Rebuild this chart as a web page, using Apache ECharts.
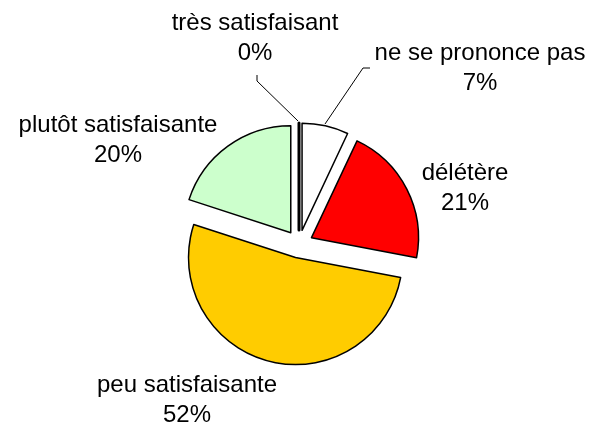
<!DOCTYPE html>
<html>
<head>
<meta charset="utf-8">
<script src="https://cdn.jsdelivr.net/npm/echarts@6/dist/echarts.min.js"></script>
<style>
html, body { margin: 0; padding: 0; background: #fff; }
#container { width: 608px; height: 430px; }
</style>
</head>
<body>
<div id="container"></div>
<script>
var categories = ['ne se prononce pas', 'délétère', 'peu satisfaisante', 'plutôt satisfaisante', 'très satisfaisant'];
var values = [7, 21, 52, 20, 0];

// label block centres and leader lines (layout only)
var labelPos = [[480, 68], [465, 188], [187, 400], [118, 140], [255, 38]];
var leaderLines = [
    [[370, 68], [363, 68], [325, 124]],
    null,
    null,
    null,
    [[257, 75], [257, 81], [298, 121]]
];
var colors = ['#ffffff', '#ff0000', '#ffcc00', '#ccffcc', '#000000'];

var dom = document.getElementById('container');
var myChart = echarts.init(dom);

var total = values.reduce(function (a, b) { return a + b; }, 0);

var pieData = categories.map(function (name, i) {
    return {
        name: name,
        value: values[i],
        selected: true,
        itemStyle: {color: colors[i], borderWidth: i === 4 ? 3 : 1.5}
    };
});

var graphics = [];
categories.forEach(function (name, i) {
    graphics.push({
        type: 'text',
        x: labelPos[i][0],
        y: labelPos[i][1],
        silent: true,
        style: {
            text: name + '\n' + Math.round(values[i] / total * 100) + '%',
            fill: '#000',
            font: '24px "Liberation Sans", Arial, sans-serif',
            lineHeight: 30,
            align: 'center',
            verticalAlign: 'middle'
        }
    });
    if (leaderLines[i]) {
        graphics.push({
            type: 'polyline',
            silent: true,
            shape: {points: leaderLines[i]},
            style: {stroke: '#000', lineWidth: 1, fill: null}
        });
    }
});

var option = {
    animation: false,
    graphic: graphics,
    series: [
        {
            type: 'pie',
            center: [299, 244],
            radius: 107,
            startAngle: 90,
            clockwise: true,
            selectedMode: 'multiple',
            selectedOffset: 14,
            silent: true,
            itemStyle: {borderColor: '#000', borderWidth: 1.5},
            select: {itemStyle: {borderColor: '#000'}},
            emphasis: {disabled: true},
            label: {show: false},
            labelLine: {show: false},
            data: pieData
        }
    ]
};

myChart.setOption(option, true);
window.onresize = function () {
    myChart.resize();
};
</script>
</body>
</html>
